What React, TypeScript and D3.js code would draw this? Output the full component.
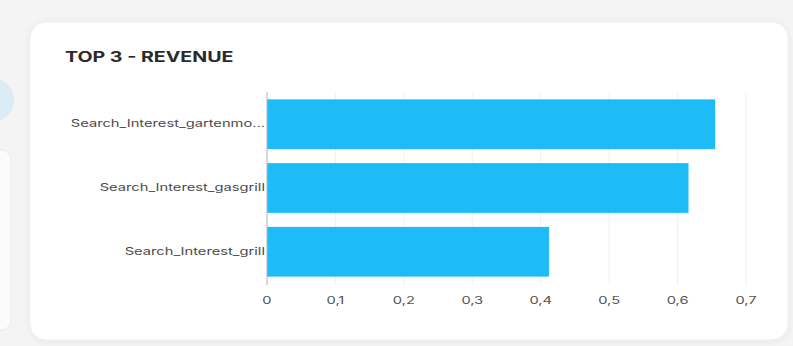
import React from "react";
import * as d3 from "d3";

const categories = [
  "Search_Interest_gartenmo...",
  "Search_Interest_gasgrill",
  "Search_Interest_grill",
];
const revenue = [0.655, 0.616, 0.412];
const tickValues = [0, 0.1, 0.2, 0.3, 0.4, 0.5, 0.6, 0.7];
const title = "TOP 3 - REVENUE";

const SX = 1.4;

export default function App() {
  const W = 793;
  const H = 346;
  const x = d3.scaleLinear().domain([0, 0.7]).range([267, 746]);
  const y = d3
    .scaleBand<string>()
    .domain(categories)
    .range([93, 283])
    .paddingInner(0.22)
    .paddingOuter(0.1);
  const fmt = (v: number) => (v === 0 ? "0" : d3.format(".1f")(v).replace(".", ","));
  return (
    <svg
      width={W}
      height={H}
      style={{ position: "fixed", left: 0, top: 0, display: "block" }}
      fontFamily="Inter, 'Noto Sans', sans-serif"
    >
      <defs>
        <filter id="sh" x="-5%" y="-5%" width="110%" height="115%">
          <feDropShadow dx="0" dy="1" stdDeviation="3" floodColor="#000" floodOpacity="0.06" />
        </filter>
      </defs>
      <rect x={0} y={0} width={W} height={H} fill="#f4f4f5" />
      <circle cx={-8} cy={100} r={22} fill="#cfe7f7" opacity={0.7} />
      <rect x={-20} y={150} width={31} height={180} rx={10} fill="#fbfbfc" stroke="#ececee" />
      <rect x={30} y={22} width={758} height={318} rx={16} fill="#ffffff" filter="url(#sh)" stroke="#eeeeef" />
      <g transform={`translate(65,62) scale(${SX},1)`}>
        <text x={0} y={0} fontSize={14} fontWeight={700} fill="#2a2a2a">
          {title}
        </text>
      </g>
      {tickValues.map((t) => (
        <line key={"g" + t} x1={x(t)} x2={x(t)} y1={93} y2={285} stroke="#f0f0f2" strokeWidth={1} />
      ))}
      {categories.map((c, i) => (
        <rect
          key={c}
          x={x(0)}
          y={y(c)!}
          width={x(revenue[i]) - x(0)}
          height={y.bandwidth()}
          fill="#1dbcf9"
        />
      ))}
      <line x1={x(0)} x2={x(0)} y1={92} y2={285} stroke="#b8b8bc" strokeWidth={1} />
      {categories.map((c) => (
        <g key={"l" + c} transform={`translate(${x(0) - 2},${y(c)! + y.bandwidth() / 2}) scale(${SX},1)`}>
          <text x={0} y={0} fontSize={10.5} textAnchor="end" dominantBaseline="middle" fill="#4a4a4a">
            {c}
          </text>
        </g>
      ))}
      {tickValues.map((t) => (
        <g key={"t" + t} transform={`translate(${x(t)},304) scale(${SX},1)`}>
          <text x={0} y={0} fontSize={10.5} textAnchor="middle" fill="#555">
            {fmt(t)}
          </text>
        </g>
      ))}
    </svg>
  );
}
